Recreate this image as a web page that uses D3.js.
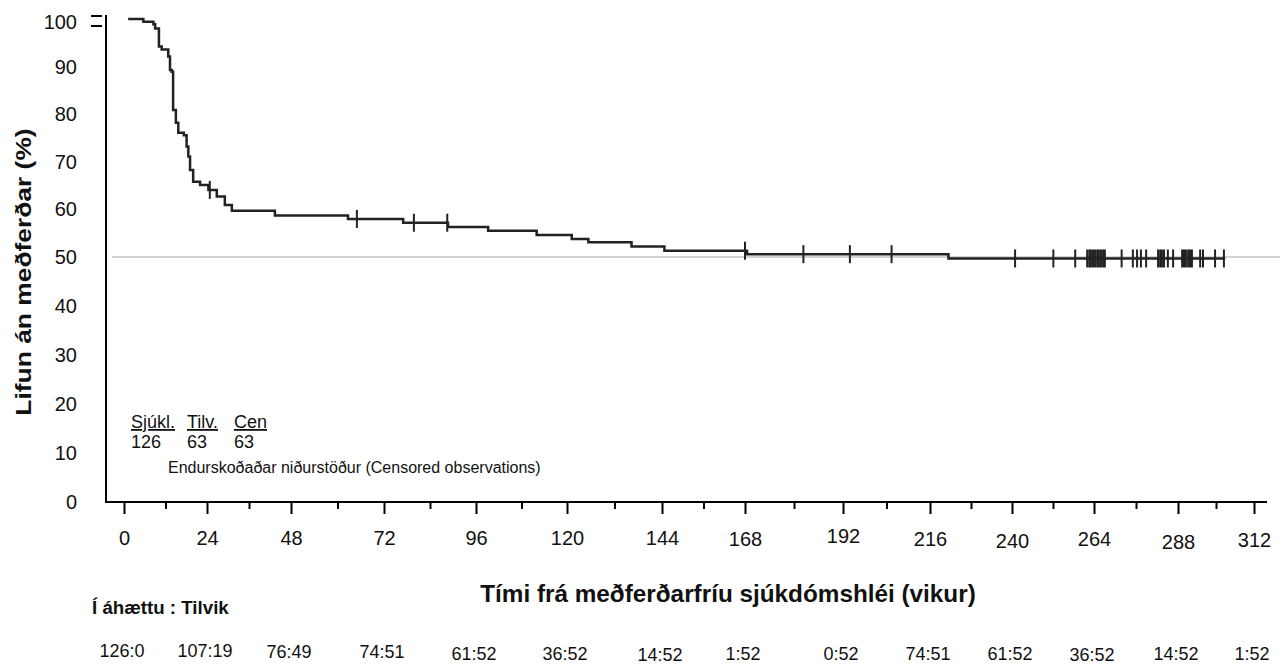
<!DOCTYPE html>
<html>
<head>
<meta charset="utf-8">
<script src="https://cdn.jsdelivr.net/npm/d3@7"></script>
<style>
  body { margin: 0; background: #fff; }
  text { font-family: "Liberation Sans", Arial, sans-serif; fill: #111; }
</style>
</head>
<body>
<div id="chart-area"></div>
<script>
// Kaplan-Meier steps: week of each drop and survival (%) right after it
var stepWeeks = [1.2, 5.6, 8.5, 9.0, 10.1, 10.9, 12.8, 13.3, 13.8, 14.2, 15.0, 15.7, 17.3, 18.1, 18.6, 19.1,
    20.0, 22.0, 24.4, 26.8, 29.1, 31.1, 43.4, 62.7, 77.0, 88.7, 99.2, 112.0, 121.2, 125.4, 136.3,
    144.7, 168.5, 221.4];
var stepSurvival = [100, 99.4, 98.9, 98.0, 94.2, 93.6, 92.1, 89.3, 88.9, 80.9, 78.2, 76.1, 75.6, 73.2, 71.1, 68.3,
    65.8, 65.1, 64.1, 62.7, 60.9, 59.7, 58.7, 58.0, 57.2, 56.3, 55.5, 54.6, 53.8, 53.1, 52.2,
    51.3, 50.6, 49.7];
var lastWeek = 302.9;

// censored observations (weeks)
var censorWeeks = [24.8, 65.0, 79.8, 88.5, 168.0, 182.3, 193.9, 205.4, 240.9, 252.1, 258.5,
    262.0, 262.6, 263.1, 263.7, 264.3, 264.9, 265.4, 266.0, 266.6, 267.1,
    271.9, 275.1, 276.3, 277.4, 278.9,
    282.3, 282.9, 283.4, 284.0, 285.1, 286.6,
    289.3, 289.9, 290.5, 291.2, 291.8, 292.4,
    295.0, 295.9, 299.7, 302.5];

var xTicks = [0, 24, 48, 72, 96, 120, 144, 168, 192, 216, 240, 264, 288, 312];
var yTicks = [0, 10, 20, 30, 40, 50, 60, 70, 80, 90, 100];
var riskLabels = ["126:0", "107:19", "76:49", "74:51", "61:52", "36:52", "14:52", "1:52",
    "0:52", "74:51", "61:52", "36:52", "14:52", "1:52"];

var legendHeads = ["Sjúkl.", "Tilv.", "Cen"];
var legendCounts = ["126", "63", "63"];

var width = 1288,
    height = 666;

var svg = d3.select("#chart-area")
    .append("svg")
    .attr("width", width)
    .attr("height", height);

// the tick marks in the picture are not evenly spaced, so x is piecewise
var xTickPx = [124, 207, 291, 384, 476, 567, 662, 745, 843, 930, 1012, 1094, 1178, 1254];
var x = d3.scaleLinear().domain(xTicks).range(xTickPx);
// same for y: the lower half is a bit taller than the upper half
var y = d3.scaleLinear().domain([0, 50, 100]).range([502, 257, 19]);

var axisLeftX = 106,
    axisBottomY = 502;

// labels in the picture sit a little up or down
var xLabelShift = [0, 0, 0, 0, 0, 0, 0, 1, -2, 1, 3, 1, 4, 2];
var riskShift = [0, 0, 1, 1, 3, 3, 4, 3, 3, 3, 3, 4, 3, 3];

// 50% reference line
svg.append("line")
    .attr("x1", 112).attr("x2", 1280)
    .attr("y1", y(50)).attr("y2", y(50))
    .attr("stroke", "#a8a8a8")
    .attr("stroke-width", 1.2);

// axes lines
svg.append("line")
    .attr("x1", axisLeftX).attr("x2", axisLeftX)
    .attr("y1", 15).attr("y2", axisBottomY + 1)
    .attr("stroke", "#000").attr("stroke-width", 2);

svg.append("line")
    .attr("x1", axisLeftX - 1).attr("x2", 1267)
    .attr("y1", axisBottomY).attr("y2", axisBottomY)
    .attr("stroke", "#000").attr("stroke-width", 2);

// small double dash left of the top of the y axis
[y(100) - 3, y(100) + 7].forEach(function(yy) {
    svg.append("line")
        .attr("x1", 91).attr("x2", 102)
        .attr("y1", yy).attr("y2", yy)
        .attr("stroke", "#000").attr("stroke-width", 2);
});

// Y axis labels
var yAxisGroup = svg.append("g")
    .attr("transform", "translate(" + axisLeftX + ",0)")
    .call(d3.axisLeft(y).tickValues(yTicks).tickSize(0).tickPadding(29));
yAxisGroup.select(".domain").remove();
yAxisGroup.selectAll("text")
    .style("font-size", "20px")
    .style("font-family", "'Liberation Sans', Arial, sans-serif")
    .attr("fill", "#111")
    .attr("dy", function(d) { return d === 100 ? "0.48em" : "0.32em"; });

// X axis, major and minor ticks
var xAxisGroup = svg.append("g")
    .attr("transform", "translate(0," + axisBottomY + ")")
    .call(d3.axisBottom(x).tickValues(xTicks).tickSize(12).tickPadding(18));
xAxisGroup.select(".domain").remove();
xAxisGroup.selectAll("line").attr("stroke", "#000").attr("stroke-width", 2);
xAxisGroup.selectAll("text")
    .style("font-size", "20px")
    .style("font-family", "'Liberation Sans', Arial, sans-serif")
    .attr("fill", "#111")
    .attr("y", function(d, i) { return 29 + xLabelShift[i]; });

var minorGroup = svg.append("g")
    .attr("transform", "translate(0," + axisBottomY + ")")
    .call(d3.axisBottom(x).tickValues(d3.range(12, 312, 24)).tickSize(7).tickFormat(""));
minorGroup.select(".domain").remove();
minorGroup.selectAll("line").attr("stroke", "#000").attr("stroke-width", 2);

// survival curve
var points = stepWeeks.map(function(t, i) { return [t, stepSurvival[i]]; });
points.push([lastWeek, stepSurvival[stepSurvival.length - 1]]);

var line = d3.line()
    .x(function(d) { return x(d[0]); })
    .y(function(d) { return y(d[1]); })
    .curve(d3.curveStepAfter);

svg.append("path")
    .datum(points)
    .attr("fill", "none")
    .attr("stroke", "#222")
    .attr("stroke-width", 2.5)
    .attr("d", line);

// censor marks
var bisect = d3.bisector(function(d) { return d; }).right;
function survivalAt(t) {
    var i = Math.max(0, bisect(stepWeeks, t) - 1);
    return stepSurvival[i];
}

svg.selectAll(".censor")
    .data(censorWeeks)
    .enter().append("line")
    .attr("class", "censor")
    .attr("x1", function(d) { return x(d); })
    .attr("x2", function(d) { return x(d); })
    .attr("y1", function(d) { return y(survivalAt(d)) - 9; })
    .attr("y2", function(d) { return y(survivalAt(d)) + 9; })
    .attr("stroke", "#222")
    .attr("stroke-width", 2);

// legend block inside plot
var legendX = [131, 187, 234];
legendHeads.forEach(function(t, i) {
    svg.append("text")
        .attr("x", legendX[i])
        .attr("y", 428)
        .style("font-size", "18px")
        .style("text-decoration", "underline")
        .text(t);
    svg.append("text")
        .attr("x", legendX[i])
        .attr("y", 448)
        .style("font-size", "18px")
        .text(legendCounts[i]);
});

svg.append("text")
    .attr("x", 168)
    .attr("y", 473)
    .style("font-size", "16px")
    .text("Endurskoðaðar niðurstöður (Censored observations)");

// axis titles
svg.append("text")
    .attr("transform", "translate(31,272) rotate(-90) scale(1.2,1)")
    .attr("text-anchor", "middle")
    .style("font-size", "22px")
    .style("font-weight", "bold")
    .text("Lifun án meðferðar (%)");

svg.append("text")
    .attr("x", 728)
    .attr("y", 602)
    .attr("text-anchor", "middle")
    .style("font-size", "24.3px")
    .style("font-weight", "bold")
    .text("Tími frá meðferðarfríu sjúkdómshléi (vikur)");

// numbers at risk
svg.append("text")
    .attr("x", 92)
    .attr("y", 614)
    .style("font-size", "18.7px")
    .style("font-weight", "bold")
    .text("Í áhættu : Tilvik");

svg.selectAll(".risk")
    .data(riskLabels)
    .enter().append("text")
    .attr("class", "risk")
    .attr("x", function(d, i) { return x(xTicks[i]) - 2; })
    .attr("y", function(d, i) { return 657 + riskShift[i]; })
    .attr("text-anchor", "middle")
    .style("font-size", "18px")
    .text(function(d) { return d; });
</script>
</body>
</html>
